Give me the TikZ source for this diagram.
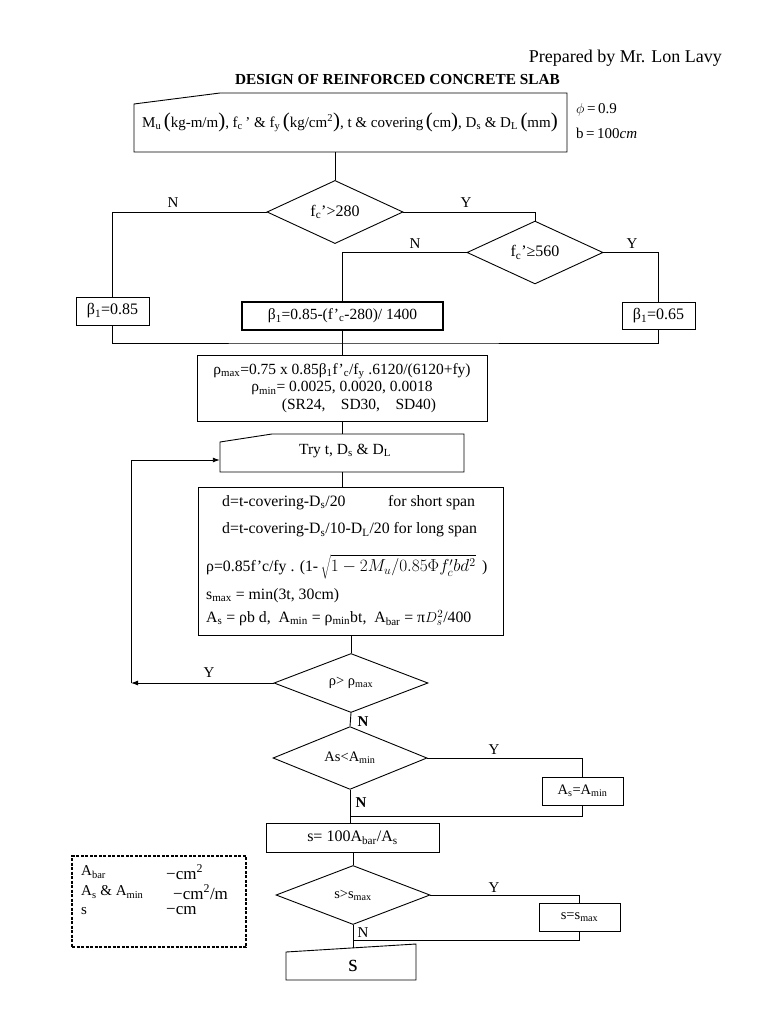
\documentclass[tikz,border=0pt]{standalone}
\usepackage{fontspec}
\setmainfont{Liberation Serif}
\usetikzlibrary{shapes.geometric,arrows.meta}
\newcommand\fsz[1]{\fontsize{#1}{#1}\selectfont}
\newcommand\sbs[1]{\textsubscript{#1}}
\newcommand\bpar[1]{{\fsz{21}(}#1{\fsz{21})}}
\begin{document}
\begin{tikzpicture}[x=1pt,y=-1pt,
  ln/.style={line width=0.9pt},
  bx/.style={draw, line width=0.9pt, rectangle, inner sep=0pt, font=\fsz{16}},
  dm/.style={draw, diamond, line width=0.9pt, inner sep=0pt, font=\fsz{16}},
  gh/.style={rectangle, inner sep=0pt},
  yn/.style={font=\fsz{15}, inner sep=0pt},
  tx/.style={inner sep=0pt, anchor=west, font=\fsz{15.8}},
  arr/.style={-{Latex[length=7pt,width=5pt]}}]
\useasboundingbox (0,0) rectangle (768,1024);

% header
\node[anchor=base east, inner sep=0pt, font=\fsz{18}] (prep) at (722,63) {Prepared by Mr. Lon Lavy};
\node[anchor=base, inner sep=0pt, font=\bfseries\fsz{15.3}] (title) at (397.5,85) {DESIGN OF REINFORCED CONCRETE SLAB};

% input box (manual input)
\draw[ln] (134,104) -- (220,93) -- (567,93) -- (567,152) -- (134,152) -- cycle;
\node[gh, minimum width=433pt, minimum height=59pt] (inbox) at (350.5,122.5) {};
\node[inner sep=0pt, font=\fsz{15}] (intext) at (350,122)
  {M\sbs{u}\,\bpar{kg-m/m}, f\sbs{c}\,’ \& f\sbs{y}\,\bpar{kg/cm\textsuperscript{2}}, t \& covering\,\bpar{cm}, D\sbs{s} \& D\sbs{L}\,\bpar{mm}};
\node[inner sep=0pt, anchor=west, font=\fsz{15}] (phi) at (576,110) {$\phi$\,=\,0.9};
\node[inner sep=0pt, anchor=west, font=\fsz{15}] (bb) at (576,133) {b\,=\,100\textit{cm}};

% beta decisions
\node[dm, minimum width=136pt, minimum height=60pt] (d1) at (335,212) {f\sbs{c}’>280};
\node[dm, minimum width=136pt, minimum height=61pt] (d2) at (535,252.5) {f\sbs{c}’≥560};
\node[bx, minimum width=73pt, minimum height=28pt] (b1) at (112.5,311) {β\sbs{1}=0.85};
\node[bx, line width=2pt, minimum width=201pt, minimum height=28pt, font=\fsz{15.5}] (b2) at (342.5,316) {β\sbs{1}=0.85-(f’\sbs{c}-280)/ 1400};
\node[bx, minimum width=73pt, minimum height=27pt] (b3) at (658.5,315.5) {β\sbs{1}=0.65};

\draw[ln] (d1.north) -- (d1.north |- inbox.south);
\draw[ln] (d1.west) -| (b1.north);
\draw[ln] (d1.east) -| (d2.north);
\draw[ln] (d2.west) -| (b2.north);
\draw[ln] (d2.east) -| (b3.north);
\node[yn] (n1) at (173,203) {N};
\node[yn] (y1) at (466,203) {Y};
\node[yn] (n2) at (415,244) {N};
\node[yn] (y2) at (632,244) {Y};

\coordinate (mrg) at (342.5,343);
\draw[ln] (b1.south) |- (mrg) -| (b3.south);

% rho box
\node[bx, minimum width=290pt, minimum height=66pt, align=center, font=\fsz{15.5}] (rho) at (342,388)
  {ρ\sbs{max}=0.75 x 0.85β\sbs{1}f’\sbs{c}/f\sbs{y} .6120/(6120+fy)\\[2pt]
   ρ\sbs{min}= 0.0025, 0.0020, 0.0018\\[2pt]
   \hspace*{34pt}(SR24,\quad SD30,\quad SD40)};
\draw[ln] (b2.south) -- (b2.south |- rho.north);

% try box
\draw[ln] (220,442) -- (272,434) -- (464,434) -- (464,472) -- (220,472) -- cycle;
\node[gh, minimum width=244pt, minimum height=38pt] (try) at (342,453) {};
\node[inner sep=0pt, font=\fsz{15.5}] (trytext) at (345,451) {Try t, D\sbs{s} \& D\sbs{L}};
\draw[ln] (rho.south) -- (rho.south |- try.north);

% calc box
\node[bx, minimum width=305pt, minimum height=148pt] (calc) at (350.5,561) {};
\draw[ln] (try.south) -- (try.south |- calc.north);
\node[tx] (c1) at (222,503) {d=t-covering-D\sbs{s}/20};
\node[tx] (c1b) at (388,503) {for short span};
\node[tx] (c2) at (222,530) {d=t-covering-D\sbs{s}/10-D\sbs{L}/20 for long span};
\node[tx] (c3) at (206,567) {ρ=0.85f’c/fy . (1-\,{\fsz{17.28}$\sqrt{1-2M_u/0.85\Phi f'_c bd^2}$}\, )};
\node[tx] (c4) at (206,596) {s\sbs{max} = min(3t, 30cm)};
\node[tx] (c5) at (206,618) {A\sbs{s} = ρb d,\ \ A\sbs{min} = ρ\sbs{min}bt,\ \ A\sbs{bar} = π$D_s^2$/400};

% rho check
\node[dm, minimum width=154pt, minimum height=59pt, font=\fsz{14.5}] (d3) at (351,683) {ρ> ρ\sbs{max}};
\draw[ln] (d3.north |- calc.south) -- (d3.north);
\coordinate (lp) at (131,683);
\draw[ln, arr] (d3.west) -- (lp);
\draw[ln, arr] (lp) |- (try.west |- 0,460);
\node[yn] (y3) at (209,673) {Y};

% As check
\node[dm, minimum width=154pt, minimum height=60pt, font=\fsz{14.5}] (d4) at (350,758) {As<A\sbs{min}};
\draw[ln] (d3.south) -- (d4.north);
\node[yn, font=\bfseries\fsz{15}] (n3) at (363,722) {N};
\node[bx, minimum width=81pt, minimum height=28pt, font=\fsz{14.5}] (asmin) at (582.5,791) {A\sbs{s}=A\sbs{min}};
\draw[ln] (d4.east) -| (asmin.north);
\node[yn] (y4) at (494,750) {Y};
\node[bx, minimum width=173pt, minimum height=29pt] (sbox) at (352.5,837.5) {s= 100A\sbs{bar}/A\sbs{s}};
\draw[ln] (d4.south) -- (d4.south |- sbox.north);
\draw[ln] (asmin.south) |- (d4.south |- 0,816);
\node[yn, font=\bfseries\fsz{15}] (n4) at (361,803) {N};

% s check
\node[dm, minimum width=154pt, minimum height=59pt, font=\fsz{14.5}] (d5) at (353,895) {s>s\sbs{max}};
\draw[ln] (d5.north |- sbox.south) -- (d5.north);
\node[bx, minimum width=81pt, minimum height=28pt, font=\fsz{14.5}] (smax) at (579.5,917) {s=s\sbs{max}};
\draw[ln] (d5.east) -| (smax.north);
\node[yn] (y5) at (494,888) {Y};
\draw[ln] (smax.south) |- (d5.south |- 0,940);
\node[yn] (n5) at (363,933) {N};

% output
\draw[ln] (286,952) -- (416,944) -- (416,980) -- (286,980) -- cycle;
\node[gh, minimum width=130pt, minimum height=36pt] (out) at (351,962) {};
\node[inner sep=0pt, font=\fsz{24}] (outtext) at (353,966) {s};
\draw[ln] (d5.south) -- (d5.south |- 0,948);

% legend
\node[draw, dash pattern=on 3pt off 1.5pt, line width=1.1pt, minimum width=174pt, minimum height=91pt, inner sep=0pt] (legend) at (159,901.5) {};
\node[tx, font=\fsz{15}] (l1) at (81,872) {A\sbs{bar}};
\node[tx, font=\fsz{17}] (l1b) at (166,872) {−cm\textsuperscript{2}};
\node[tx, font=\fsz{15}] (l2) at (81,892) {A\sbs{s} \& A\sbs{min}};
\node[tx, font=\fsz{17}] (l2b) at (173,892) {−cm\textsuperscript{2}/m};
\node[tx, font=\fsz{15}] (l3) at (81,911) {s};
\node[tx, font=\fsz{17}] (l3b) at (166,911) {−cm};
\end{tikzpicture}
\end{document}
